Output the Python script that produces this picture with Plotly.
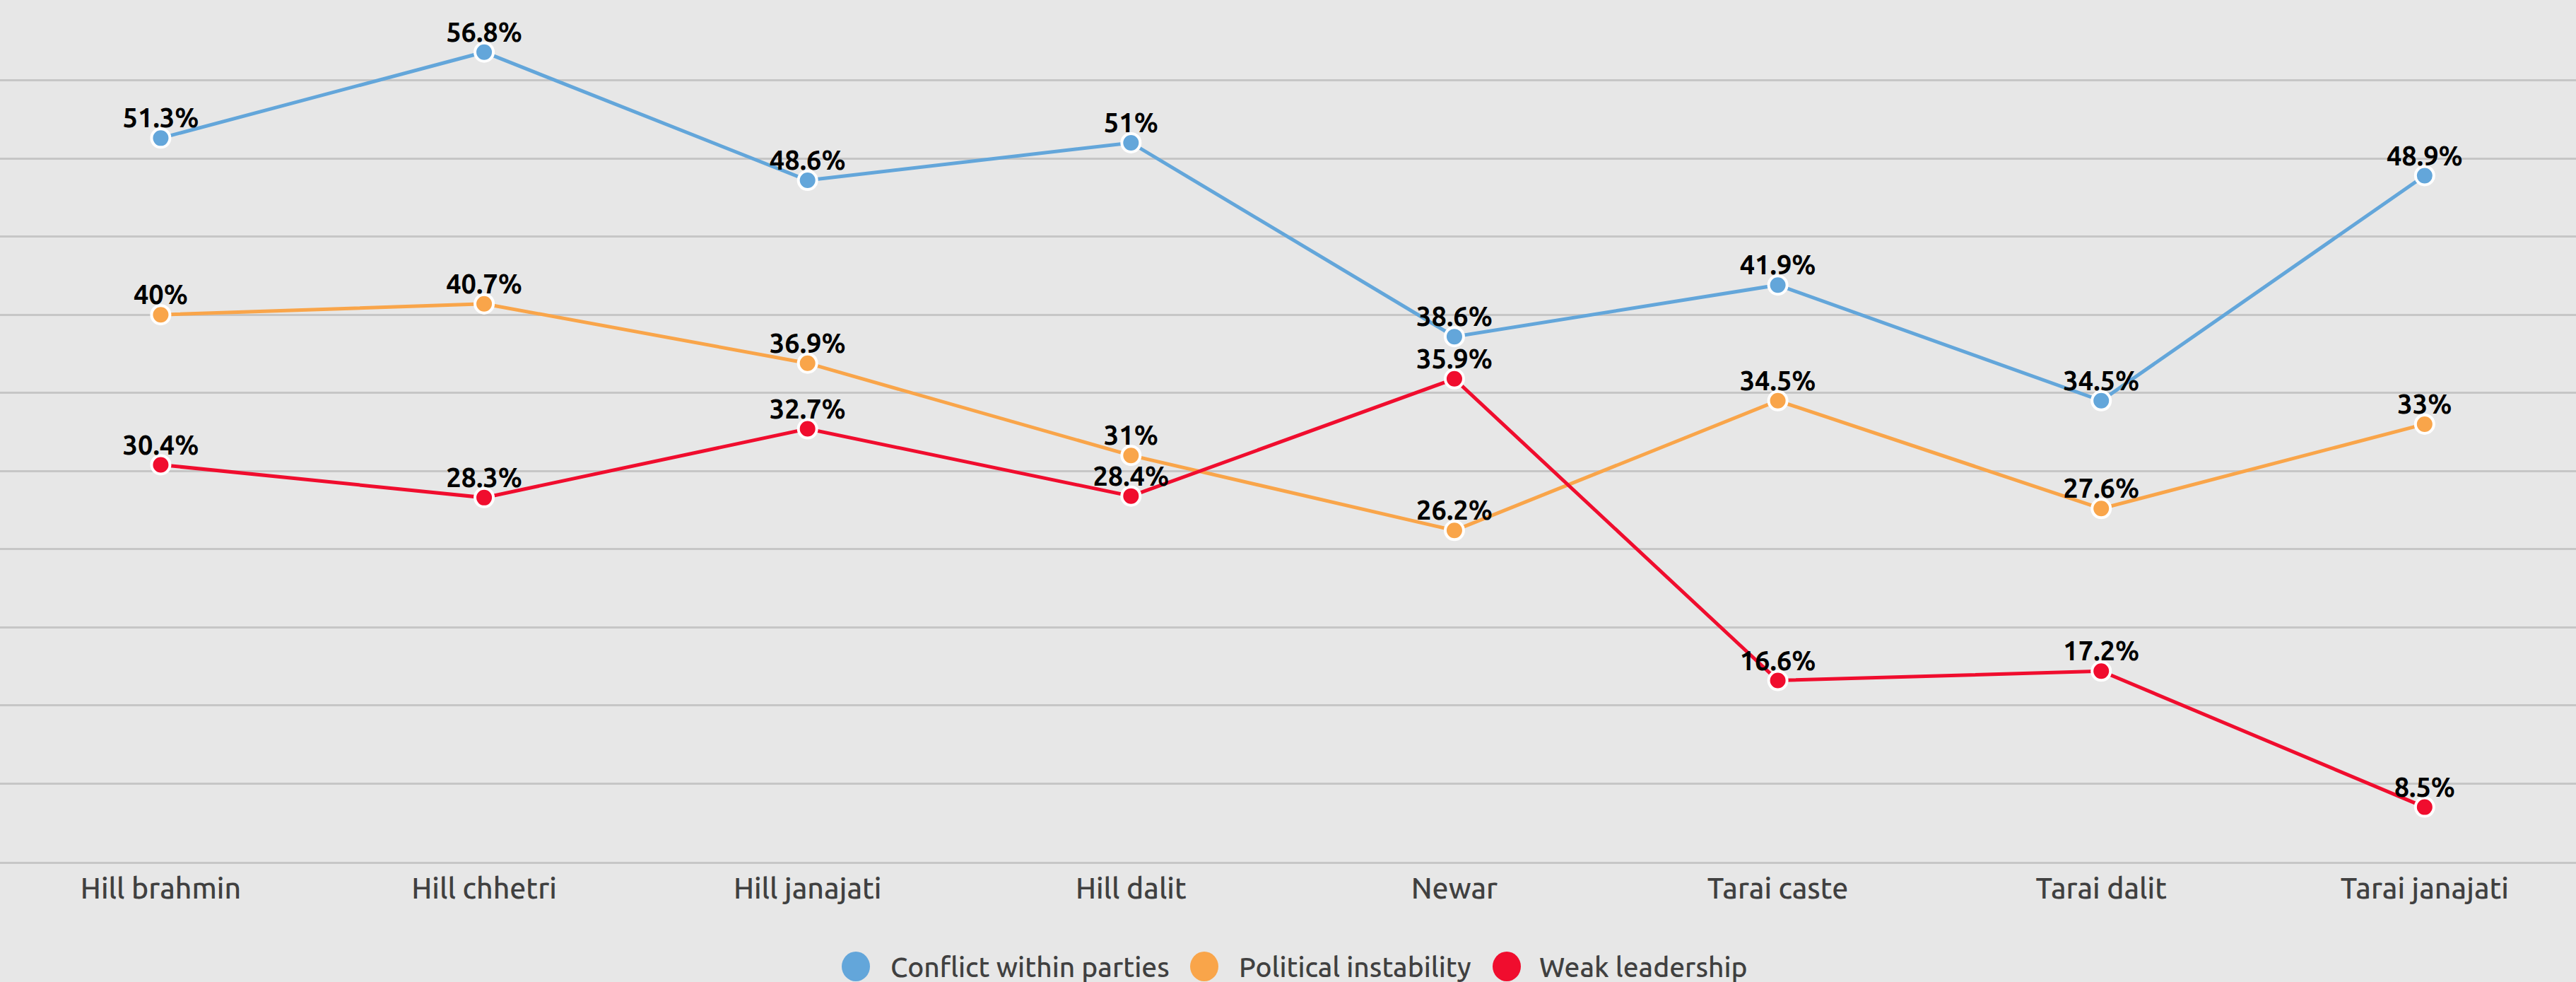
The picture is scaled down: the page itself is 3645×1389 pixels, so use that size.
import plotly.graph_objects as go

categories = ["Hill brahmin", "Hill chhetri", "Hill janajati", "Hill dalit",
              "Newar", "Tarai caste", "Tarai dalit", "Tarai janajati"]
conflict = [51.3, 56.8, 48.6, 51, 38.6, 41.9, 34.5, 48.9]
instability = [40, 40.7, 36.9, 31, 26.2, 34.5, 27.6, 33]
weak = [30.4, 28.3, 32.7, 28.4, 35.9, 16.6, 17.2, 8.5]

series_names = ["Conflict within parties", "Political instability", "Weak leadership"]
series_values = [conflict, instability, weak]
colors = ["#63a6da", "#f9a54a", "#f00d2e"]

W, H = 3645, 1389
TOP, BOTTOM = 3, 170
PLOT_H = H - TOP - BOTTOM
FONT = "Ubuntu, Lato, Roboto, sans-serif"

fig = go.Figure()
for name, vals, col in zip(series_names, series_values, colors):
    fig.add_trace(go.Scatter(
        x=categories, y=vals, name=name, mode="lines+markers",
        line=dict(color=col, width=5),
        marker=dict(color=col, size=26, line=dict(color="white", width=4)),
        showlegend=False,
    ))
# value labels drawn on top of all lines (invisible small markers control the offset)
for name, vals in zip(series_names, series_values):
    fig.add_trace(go.Scatter(
        x=categories, y=vals, name=name, mode="markers+text",
        marker=dict(size=7, opacity=0),
        text=[f"{v:g}%" for v in vals], textposition="top center",
        textfont=dict(family=FONT, size=38, color="#000000", weight="bold"),
        cliponaxis=False, showlegend=False, hoverinfo="skip",
    ))

# manual legend (large circle markers like the reference)
legend_circle_x = [1211, 1704, 2132]
legend_text_x = [1258, 1751, 2176]
legend_y_px = 1367
ly = -(legend_y_px - (H - BOTTOM)) / PLOT_H
annotations = []
shapes = []
for name, col, cx, tx in zip(series_names, colors, legend_circle_x, legend_text_x):
    shapes.append(dict(type="circle", xref="paper", yref="paper",
                       xsizemode="pixel", ysizemode="pixel",
                       xanchor=cx / W, yanchor=ly,
                       x0=-20, x1=20, y0=-21, y1=21,
                       fillcolor=col, line=dict(width=0)))
    annotations.append(dict(xref="paper", yref="paper", x=tx / W, y=ly,
                            xanchor="left", yanchor="middle", showarrow=False,
                            text=name, font=dict(family=FONT, size=39, color="#404040",
                                                 weight=500)))

fig.update_layout(
    width=W, height=H,
    margin=dict(l=0, r=0, t=TOP, b=BOTTOM, autoexpand=False),
    paper_bgcolor="#e7e7e7", plot_bgcolor="#e7e7e7",
    showlegend=False,
    xaxis=dict(type="category", range=[-0.497, 7.468], showgrid=False, zeroline=False,
               showline=True, linecolor="#c6c6c6", linewidth=3, ticks="",
               ticklabelstandoff=0,
               tickfont=dict(family=FONT, size=41, color="#404040", weight=500)),
    yaxis=dict(range=[5, 60], dtick=5, tick0=5, showticklabels=False,
               gridcolor="#c6c6c6", gridwidth=3, zeroline=False, showline=False),
    shapes=shapes, annotations=annotations,
)

fig.write_html("out.html", config={"displayModeBar": False},
               post_script="document.body.style.margin='0';document.body.style.overflow='hidden';")
